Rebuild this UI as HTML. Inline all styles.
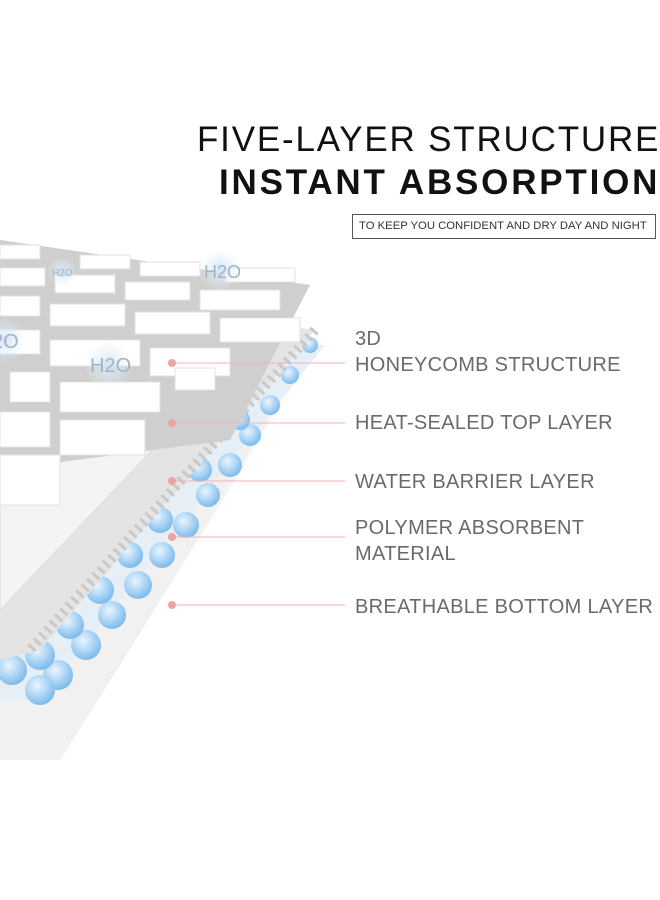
<!DOCTYPE html>
<html><head><style>
body{margin:0;width:660px;height:900px;background:#fff;overflow:hidden;position:relative;font-family:"Liberation Sans",sans-serif}
.t{position:absolute;white-space:nowrap;color:#111}
.l{position:absolute;left:355px;color:#6a6a6a;font-size:20px;letter-spacing:0.3px;line-height:26px;white-space:nowrap}
</style></head><body>
<svg width="660" height="900" style="position:absolute;left:0;top:0">
<defs>
<linearGradient id="bg" x1="0" y1="0" x2="1" y2="0"><stop offset="0" stop-color="#dcdcdc"/><stop offset="1" stop-color="#fff"/></linearGradient>
<radialGradient id="ball" cx="0.4" cy="0.35" r="0.65"><stop offset="0" stop-color="#eaf5ff"/><stop offset="0.6" stop-color="#a9d3f5"/><stop offset="1" stop-color="#7dbbec"/></radialGradient>
<radialGradient id="h" cx="0.5" cy="0.5" r="0.5"><stop offset="0" stop-color="#cfe3f3"/><stop offset="1" stop-color="#e9f2fa" stop-opacity="0"/></radialGradient>
</defs>
<polygon points="0,250 320,345 60,760 0,760" fill="url(#bg)"/>
<polygon points="0,300 315,345 60,760 0,760" fill="#f1f1f1"/>
<polygon points="0,330 325,345 40,700 0,700" fill="#e6eef6"/>
<g>
<circle cx="310" cy="345" r="8" fill="url(#ball)"/>
<circle cx="290" cy="375" r="9" fill="url(#ball)"/>
<circle cx="270" cy="405" r="10" fill="url(#ball)"/>
<circle cx="250" cy="435" r="11" fill="url(#ball)"/>
<circle cx="230" cy="465" r="12" fill="url(#ball)"/>
<circle cx="208" cy="495" r="12" fill="url(#ball)"/>
<circle cx="186" cy="525" r="13" fill="url(#ball)"/>
<circle cx="162" cy="555" r="13" fill="url(#ball)"/>
<circle cx="138" cy="585" r="14" fill="url(#ball)"/>
<circle cx="112" cy="615" r="14" fill="url(#ball)"/>
<circle cx="86" cy="645" r="15" fill="url(#ball)"/>
<circle cx="58" cy="675" r="15" fill="url(#ball)"/>
<circle cx="40" cy="690" r="15" fill="url(#ball)"/>
<circle cx="160" cy="520" r="13" fill="url(#ball)"/>
<circle cx="130" cy="555" r="13" fill="url(#ball)"/>
<circle cx="100" cy="590" r="14" fill="url(#ball)"/>
<circle cx="70" cy="625" r="14" fill="url(#ball)"/>
<circle cx="40" cy="655" r="15" fill="url(#ball)"/>
<circle cx="12" cy="670" r="15" fill="url(#ball)"/>
<circle cx="200" cy="470" r="12" fill="url(#ball)"/>
<circle cx="240" cy="420" r="10" fill="url(#ball)"/>
</g>
<polygon points="0,290 315,330 40,650 0,660" fill="#e4e4e4"/>
<polyline points="315,330 30,650" stroke="#c9c9c9" stroke-width="10" fill="none" stroke-dasharray="3 5"/>
<polygon points="0,280 300,295 0,610" fill="#f4f4f4" stroke="#ddd"/>
<polygon points="0,240 310,285 230,440 0,470" fill="#cfcfcf"/>
<g fill="#fff" stroke="#e2e2e2">
<rect x="0" y="245" width="40" height="14"/><rect x="80" y="255" width="50" height="14"/><rect x="140" y="262" width="60" height="14"/><rect x="225" y="268" width="70" height="14"/>
<rect x="0" y="268" width="45" height="18"/><rect x="55" y="275" width="60" height="18"/><rect x="125" y="282" width="65" height="18"/><rect x="200" y="290" width="80" height="20"/>
<rect x="0" y="296" width="40" height="20"/><rect x="50" y="304" width="75" height="22"/><rect x="135" y="312" width="75" height="22"/><rect x="220" y="318" width="80" height="24"/>
<rect x="0" y="330" width="40" height="24"/><rect x="50" y="340" width="90" height="26"/><rect x="150" y="348" width="80" height="28"/>
<rect x="10" y="372" width="40" height="30"/><rect x="60" y="382" width="100" height="30"/><rect x="175" y="368" width="40" height="22"/>
<rect x="0" y="412" width="50" height="35"/><rect x="60" y="420" width="85" height="35"/>
<rect x="0" y="455" width="60" height="50"/>
</g>
<circle cx="220" cy="270" r="22" fill="url(#h)"/>
<circle cx="62" cy="272" r="15" fill="url(#h)"/>
<circle cx="108" cy="365" r="24" fill="url(#h)"/>
<circle cx="5" cy="340" r="22" fill="url(#h)"/>
<g font-family="Liberation Sans" fill="#9fb4c6">
<text x="204" y="278" font-size="18">H2O</text>
<text x="52" y="276" font-size="10">H2O</text>
<text x="90" y="372" font-size="20">H2O</text>
<text x="-8" y="348" font-size="20">2O</text>
</g>
<g stroke="#f0b5b5" stroke-width="1">
<line x1="172" y1="363" x2="345" y2="363"/><line x1="172" y1="423" x2="345" y2="423"/><line x1="172" y1="481" x2="345" y2="481"/><line x1="172" y1="537" x2="345" y2="537"/><line x1="172" y1="605" x2="345" y2="605"/>
</g>
<g fill="#eda3a3">
<circle cx="172" cy="363" r="4"/><circle cx="172" cy="423" r="4"/><circle cx="172" cy="481" r="4"/><circle cx="172" cy="537" r="4"/><circle cx="172" cy="605" r="4"/>
</g>
<rect x="352.5" y="214.5" width="303" height="24" fill="none" stroke="#555"/>
</svg>
<div class="t" style="left:197px;top:120px;font-size:35px;letter-spacing:1.8px">FIVE-LAYER STRUCTURE</div>
<div class="t" style="left:219px;top:163px;font-size:35px;letter-spacing:2.8px;font-weight:bold">INSTANT ABSORPTION</div>
<div class="t" style="left:359px;top:220px;font-size:11.3px;letter-spacing:0;color:#333">TO KEEP YOU CONFIDENT AND DRY DAY AND NIGHT</div>
<div class="l" style="top:326px">3D<br>HONEYCOMB STRUCTURE</div>
<div class="l" style="top:410px">HEAT-SEALED TOP LAYER</div>
<div class="l" style="top:469px">WATER BARRIER LAYER</div>
<div class="l" style="top:515px">POLYMER ABSORBENT<br>MATERIAL</div>
<div class="l" style="top:594px">BREATHABLE BOTTOM LAYER</div>
</body></html>
